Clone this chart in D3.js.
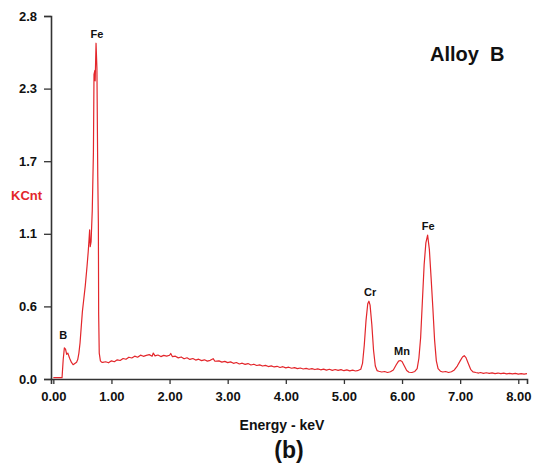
<!DOCTYPE html>
<html>
<head>
<meta charset="utf-8">
<script src="https://cdn.jsdelivr.net/npm/d3@7"></script>
<style>
  body { margin: 0; background: #fff; }
  text { font-family: Arial, "Liberation Sans", sans-serif; }
</style>
</head>
<body>
<div id="chart"></div>
<script>
// spectrum: energy (keV) and counts (KCnt)
let energy = [0.00,0.08,0.15,0.17,0.19,0.21,0.23,0.25,0.28,0.31,0.34,0.37,0.40,0.42,0.44,0.46,0.48,0.50,0.52,0.55,0.58,0.60,0.615,0.625,0.635,0.65,0.67,0.69,0.70,0.715,0.72,0.735,0.75,0.765,0.775,0.78,0.79,0.81,0.83,
  0.85,0.90,0.95,1.00,1.05,1.10,1.15,1.20,1.25,1.30,1.35,1.40,1.45,1.50,1.55,1.60,1.65,1.70,1.72,1.75,1.80,1.85,1.90,1.95,2.00,2.02,2.05,2.10,2.15,2.20,2.25,2.30,2.35,2.40,2.45,2.50,2.55,2.60,2.65,2.70,2.75,2.78,2.85,2.90,2.95,
  3.00,3.05,3.10,3.15,3.20,3.25,3.30,3.35,3.40,3.45,3.50,3.55,3.60,3.65,3.70,3.75,3.80,3.85,3.90,3.95,4.00,4.05,4.10,4.15,4.20,4.25,4.30,4.35,4.40,4.45,4.50,4.55,4.60,4.65,4.70,4.75,4.80,4.85,4.90,4.95,
  5.00,5.05,5.10,5.15,5.20,5.25,5.29,5.32,5.35,5.38,5.41,5.43,5.45,5.48,5.51,5.54,5.57,5.60,5.65,5.70,5.75,5.80,5.85,5.90,5.94,5.97,6.00,6.04,6.08,6.12,6.17,6.22,6.26,6.29,6.32,6.35,6.38,6.41,6.44,6.47,6.50,6.53,6.56,6.59,6.62,6.66,6.70,6.75,6.80,6.85,6.90,6.95,
  7.00,7.04,7.07,7.10,7.14,7.18,7.22,7.27,7.32,7.35,7.40,7.45,7.50,7.55,7.60,7.65,7.70,7.75,7.80,7.85,7.90,7.95,8.00,8.05,8.10,8.15];
let counts = [0.01,0.01,0.01,0.15,0.24,0.23,0.19,0.20,0.16,0.13,0.11,0.12,0.13,0.15,0.20,0.28,0.40,0.52,0.60,0.72,0.87,0.98,1.08,1.15,1.02,1.06,1.30,1.75,2.35,2.38,2.30,2.59,2.40,1.56,1.20,0.50,0.20,0.14,0.13,
  0.128,0.133,0.125,0.14,0.133,0.148,0.143,0.158,0.152,0.168,0.162,0.176,0.168,0.184,0.175,0.182,0.188,0.176,0.20,0.178,0.185,0.173,0.182,0.176,0.183,0.197,0.172,0.176,0.163,0.17,0.156,0.164,0.151,0.158,0.146,0.153,0.142,0.148,0.138,0.144,0.157,0.137,0.14,0.13,0.136,
  0.126,0.132,0.121,0.127,0.116,0.122,0.113,0.119,0.108,0.114,0.104,0.109,0.1,0.105,0.096,0.101,0.093,0.098,0.089,0.095,0.086,0.091,0.083,0.088,0.08,0.085,0.077,0.082,0.075,0.08,0.073,0.078,0.071,0.076,0.069,0.075,0.067,0.073,0.066,0.072,
  0.064,0.07,0.063,0.068,0.062,0.067,0.075,0.12,0.26,0.45,0.58,0.60,0.57,0.42,0.22,0.10,0.065,0.06,0.054,0.058,0.05,0.056,0.07,0.11,0.138,0.143,0.135,0.10,0.066,0.052,0.05,0.058,0.08,0.16,0.32,0.60,0.88,1.05,1.11,1.00,0.78,0.55,0.30,0.14,0.08,0.06,0.054,0.058,0.05,0.056,0.07,0.10,
  0.14,0.17,0.18,0.165,0.12,0.075,0.055,0.05,0.046,0.05,0.044,0.048,0.043,0.047,0.042,0.046,0.041,0.045,0.04,0.044,0.039,0.043,0.038,0.042,0.038,0.041];

let xTicks = [0, 1, 2, 3, 4, 5, 6, 7, 8];
let yTickLabels = ["0.0", "0.6", "1.1", "1.7", "2.3", "2.8"];
let peakNames = ["B", "Fe", "Cr", "Mn", "Fe"];
let peakEnergy = [0.17, 0.75, 5.45, 6.00, 6.45];
let peakHeight = [0.24, 2.59, 0.60, 0.143, 1.11];

let width = 541, height = 467;
let margin = { top: 16, right: 14, bottom: 88, left: 51 };
let red = "#e3262b";

let svg = d3.select("#chart")
    .append("svg")
    .attr("width", width)
    .attr("height", height);

let x = d3.scaleLinear()
    .domain([-0.04, 8.15])
    .range([margin.left, width - margin.right]);

let y = d3.scaleLinear()
    .domain([0, 2.8])
    .range([height - margin.bottom, margin.top]);

// X axis
let xAxis = svg.append("g")
    .attr("transform", `translate(0,${height - margin.bottom})`)
    .call(d3.axisBottom(x).tickValues(xTicks).tickFormat(d3.format(".2f")).tickSizeOuter(0).tickSize(5).tickPadding(8));

// Y axis, evenly spaced ticks with the rounded labels of the original
let yStep = 2.8 / (yTickLabels.length - 1);
let yAxis = svg.append("g")
    .attr("transform", `translate(${margin.left},0)`)
    .call(d3.axisLeft(y).tickValues(yTickLabels.map((d, i) => i * yStep))
        .tickFormat((d, i) => yTickLabels[i]).tickSizeOuter(0).tickSize(7).tickPadding(7));

[xAxis, yAxis].forEach(g => {
    g.select(".domain").attr("stroke", "#333").attr("stroke-width", 1.6);
    g.selectAll(".tick line").attr("stroke", "#333").attr("stroke-width", 1.3);
    g.selectAll(".tick text")
        .attr("fill", "#111")
        .attr("font-size", "13px")
        .attr("font-weight", "bold")
        .attr("font-family", "Arial, 'Liberation Sans', sans-serif");
});

// Spectrum line
let line = d3.line()
    .x((d, i) => x(energy[i]))
    .y(d => y(d));

svg.append("path")
    .datum(counts)
    .attr("fill", "none")
    .attr("stroke", red)
    .attr("stroke-width", 1.2)
    .attr("stroke-linejoin", "round")
    .attr("d", line);

// Peak labels
svg.selectAll(".peak")
    .data(peakNames)
    .enter()
    .append("text")
    .attr("class", "peak")
    .attr("x", (d, i) => x(peakEnergy[i]))
    .attr("y", (d, i) => y(peakHeight[i]) - (i === 0 ? 9 : 5))
    .attr("text-anchor", "middle")
    .attr("font-size", "11px")
    .attr("font-weight", "bold")
    .attr("fill", "#111")
    .text(d => d);

// Y label
svg.append("text")
    .attr("x", 11)
    .attr("y", 200)
    .attr("fill", red)
    .attr("font-size", "13px")
    .attr("font-weight", "bold")
    .text("KCnt");

// X label
svg.append("text")
    .attr("x", 282)
    .attr("y", 430)
    .attr("text-anchor", "middle")
    .attr("fill", "#111")
    .attr("font-size", "14px")
    .attr("font-weight", "bold")
    .text("Energy - keV");

// Title in the corner
svg.append("text")
    .attr("x", 430)
    .attr("y", 61)
    .attr("fill", "#111")
    .attr("font-size", "20px")
    .attr("font-weight", "bold")
    .style("white-space", "pre")
    .text("Alloy  B");

// Panel tag
svg.append("text")
    .attr("x", 289)
    .attr("y", 458)
    .attr("text-anchor", "middle")
    .attr("fill", "#111")
    .attr("font-size", "23px")
    .attr("font-weight", "bold")
    .text("(b)");
</script>
</body>
</html>
